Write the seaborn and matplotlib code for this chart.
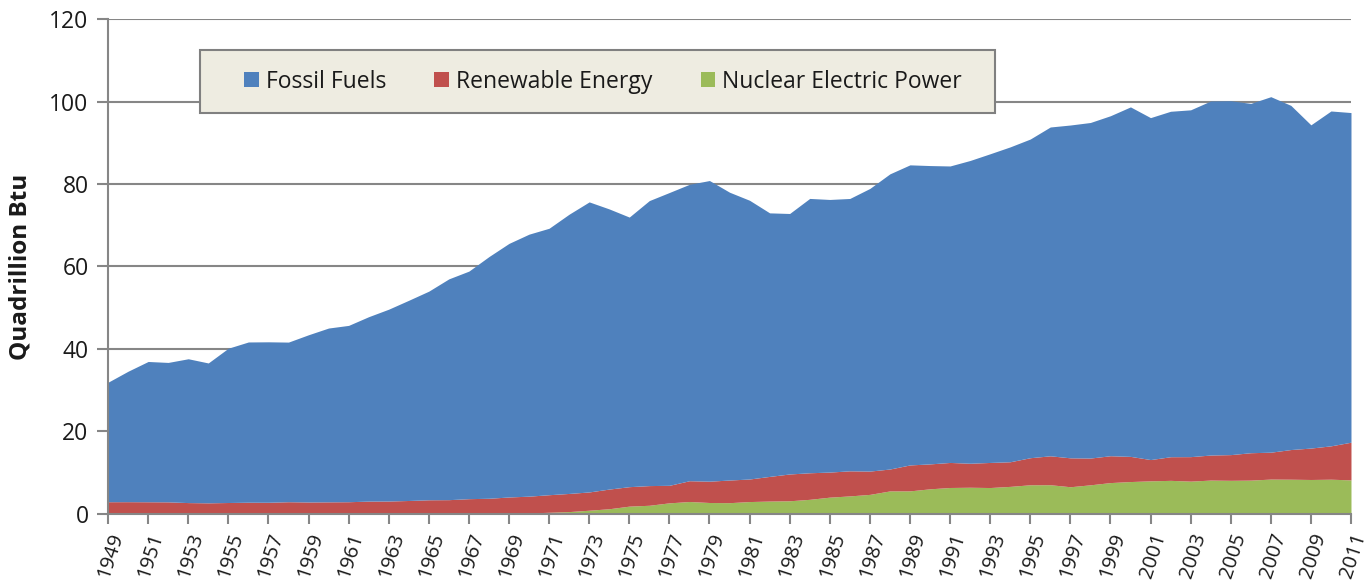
import numpy as np
import matplotlib
matplotlib.use("Agg")
import matplotlib.pyplot as plt
from matplotlib.patches import Rectangle
import seaborn as sns

years = list(range(1949, 2012))

fossil_fuels = [
    28.97, 31.63, 34.01, 33.80, 34.87, 33.91, 37.41, 38.85, 38.90, 38.70,
    40.54, 42.14, 42.75, 44.71, 46.51, 48.54, 50.58, 53.53, 55.17, 58.59,
    61.48, 63.52, 64.60, 67.70, 70.32, 67.91, 65.36, 69.10, 70.99, 71.86,
    72.89, 69.78, 67.57, 63.89, 63.15, 66.51, 66.09, 66.03, 68.52, 71.56,
    72.75, 72.33, 71.88, 73.40, 74.84, 76.34, 77.26, 79.72, 80.69, 81.35,
    82.43, 84.73, 82.90, 83.75, 84.08, 85.83, 85.79, 84.69, 86.19, 83.44,
    78.36, 81.18, 79.92,
]

renewable_energy = [
    2.97, 2.98, 2.96, 2.94, 2.76, 2.70, 2.78, 2.85, 2.84, 2.97,
    2.91, 2.93, 2.95, 3.09, 3.10, 3.23, 3.40, 3.41, 3.62, 3.67,
    3.97, 4.08, 4.26, 4.40, 4.43, 4.77, 4.72, 4.77, 4.25, 5.04,
    5.17, 5.49, 5.47, 5.98, 6.50, 6.44, 6.08, 6.08, 5.65, 5.31,
    6.29, 6.04, 6.07, 5.82, 6.08, 5.97, 6.56, 7.01, 7.01, 6.49,
    6.51, 6.10, 5.16, 5.73, 5.94, 6.07, 6.23, 6.64, 6.52, 7.19,
    7.62, 8.09, 9.14,
]

nuclear_power = [
    0.00, 0.00, 0.00, 0.00, 0.00, 0.00, 0.00, 0.00, 0.00, 0.00,
    0.00, 0.01, 0.02, 0.03, 0.04, 0.04, 0.04, 0.06, 0.09, 0.14,
    0.15, 0.24, 0.41, 0.58, 0.91, 1.27, 1.90, 2.11, 2.70, 3.02,
    2.78, 2.74, 3.01, 3.13, 3.20, 3.55, 4.08, 4.38, 4.75, 5.59,
    5.60, 6.10, 6.42, 6.48, 6.41, 6.69, 7.08, 7.09, 6.60, 7.07,
    7.61, 7.86, 8.03, 8.15, 7.96, 8.22, 8.16, 8.21, 8.46, 8.43,
    8.36, 8.43, 8.26,
]

series_labels = ["Fossil Fuels", "Renewable Energy", "Nuclear Electric Power"]
colors = {"Fossil Fuels": "#4F81BD", "Renewable Energy": "#C0504D",
          "Nuclear Electric Power": "#9BBB59"}

sns.set_theme(style="white")
plt.rcParams["font.family"] = ["Open Sans", "DejaVu Sans"]

fig = plt.figure(figsize=(13.71, 5.83), dpi=100)
ax = fig.add_axes([0.0788, 0.1184, 0.9066, 0.849])

polys = ax.stackplot(
    years, nuclear_power, renewable_energy, fossil_fuels,
    colors=[colors["Nuclear Electric Power"], colors["Renewable Energy"], colors["Fossil Fuels"]],
    labels=["Nuclear Electric Power", "Renewable Energy", "Fossil Fuels"],
    linewidth=0, zorder=2,
)

ax.set_xlim(1949, 2011)
ax.set_ylim(0, 120)
ax.set_yticks(np.arange(0, 121, 20))
ax.set_xticks(years[::2])
ax.set_xticklabels([str(y) for y in years[::2]], rotation=72, ha="right",
                   va="top", rotation_mode="anchor", fontsize=14.5)
ax.tick_params(axis="y", labelsize=16.5, length=8, width=1.5, color="#868686",
               direction="out", left=True, pad=6, labelcolor="#1a1a1a")
ax.tick_params(axis="x", length=7, width=1.5, color="#868686",
               direction="out", bottom=True, pad=5, labelcolor="#1a1a1a")

ax.grid(axis="y", color="#868686", linewidth=1.5, zorder=0)
ax.set_axisbelow(True)
for side in ["top", "right"]:
    ax.spines[side].set_visible(False)
for side in ["left", "bottom"]:
    ax.spines[side].set_color("#868686")
    ax.spines[side].set_linewidth(1.5)

ax.set_ylabel("Quadrillion Btu", fontsize=17.5, fontweight="bold", labelpad=12,
              color="#1a1a1a")

# legend box drawn separately so its padding can match the original
ax.add_patch(Rectangle((0.074, 0.810), 0.6396, 0.127, transform=ax.transAxes,
                       facecolor="#EEECE1", edgecolor="#808080", linewidth=1.5,
                       zorder=5))
handles = polys[::-1]
leg = ax.legend(
    handles, series_labels, ncol=3, loc="center left",
    bbox_to_anchor=(0.1094, 0.8737), fontsize=16.5, frameon=False,
    handlelength=0.65, handleheight=0.65, handletextpad=0.3,
    columnspacing=2.1, borderpad=0, borderaxespad=0,
)
leg.set_zorder(6)
for t in leg.get_texts():
    t.set_color("#1a1a1a")

fig.savefig("out.png", dpi=100)
